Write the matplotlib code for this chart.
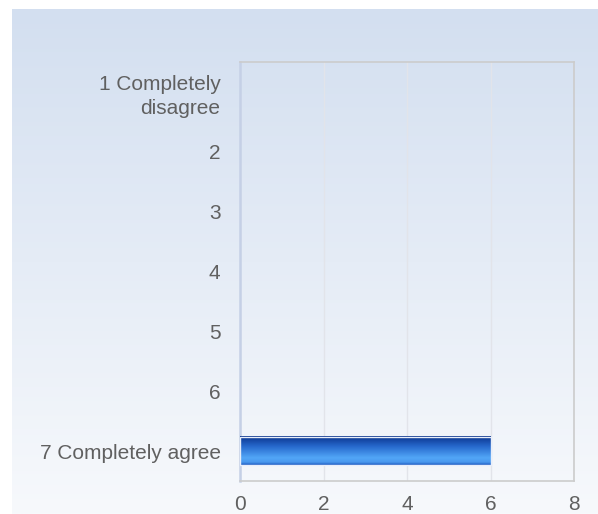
import numpy as np
import matplotlib.pyplot as plt
from matplotlib.colors import LinearSegmentedColormap

categories = ['1 Completely\ndisagree', '2', '3', '4', '5', '6', '7 Completely agree']
counts = [0, 0, 0, 0, 0, 0, 6]
x_ticks = [0, 2, 4, 6, 8]

plt.rcParams['font.family'] = ['Liberation Sans', 'DejaVu Sans']

fig = plt.figure(figsize=(5.98, 5.14), dpi=100)
fig.patch.set_facecolor('white')

# Background panel with vertical gradient
bg = fig.add_axes([12 / 598, 0, 1 - 12 / 598, 1 - 9 / 514])
bg_cmap = LinearSegmentedColormap.from_list('bg', ['#f7f9fc', '#d3dff0'])
bg.imshow(np.linspace(0, 1, 256).reshape(-1, 1), aspect='auto', cmap=bg_cmap,
          origin='lower', extent=[0, 1, 0, 1])
bg.set_axis_off()

ax = fig.add_axes([240 / 598, 1 - 481 / 514, (574 - 240) / 598, (481 - 62) / 514])
ax.patch.set_alpha(0)

y_pos = np.arange(len(categories))
bars = ax.barh(y_pos, counts, height=0.47, color='none', edgecolor='none', zorder=3)

# gradient top -> bottom
bar_cmap = LinearSegmentedColormap.from_list(
    'bar', [(0.0, '#0b338c'), (0.35, '#2668cc'), (0.75, '#52a6f7'),
            (0.9, '#4a98ee'), (1.0, '#1e5cc2')])
for b, v in zip(bars, counts):
    if v <= 0:
        continue
    x0, y0, w, h = b.get_x(), b.get_y(), b.get_width(), b.get_height()
    ax.imshow(np.linspace(0, 1, 256).reshape(-1, 1), aspect='auto', cmap=bar_cmap,
              extent=[x0, x0 + w, y0 + h, y0], origin='upper', zorder=3)
    ax.add_patch(plt.Rectangle((x0, y0), w, h, fill=False, edgecolor='#e8eefa',
                               linewidth=1.0, zorder=4))

ax.set_xlim(0, 8)
ax.set_ylim(len(categories) - 0.5, -0.5)
ax.set_xticks(x_ticks)
ax.set_yticks(y_pos)
ax.set_yticklabels(categories, ha='right', multialignment='right', linespacing=1.35)

ax.grid(axis='x', color='#e2e4ea', linewidth=1.0, zorder=1)
ax.set_axisbelow(True)
for s in ax.spines.values():
    s.set_color('#cccccc')
    s.set_linewidth(1.2)
ax.spines['left'].set_color('#c5d0e6')
ax.spines['left'].set_linewidth(1.8)

ax.tick_params(axis='both', length=0, labelsize=15, labelcolor='#606060')
ax.tick_params(axis='y', pad=14)
ax.tick_params(axis='x', pad=10)

fig.savefig('out.png', dpi=100)
